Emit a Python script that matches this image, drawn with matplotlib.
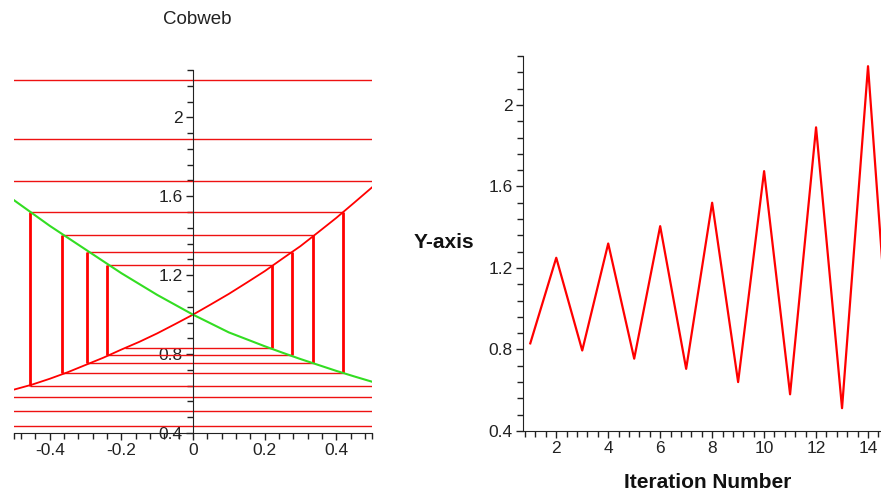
import numpy as np
import matplotlib
matplotlib.use("Agg")
import matplotlib.pyplot as plt
from matplotlib.ticker import FuncFormatter

plt.rcParams["font.family"] = ["Liberation Sans", "DejaVu Sans"]
plt.rcParams["axes.unicode_minus"] = False

# iterates (iteration 1..15)
iteration = [1, 2, 3, 4, 5, 6, 7, 8, 9, 10, 11, 12, 13, 14, 15]
y_iter = [0.83, 1.25, 0.795, 1.32, 0.755, 1.405, 0.705, 1.52,
          0.64, 1.675, 0.58, 1.89, 0.512, 2.19, 0.435]

# cobweb: x position of start, each vertical step, and the final end
web_x = [-0.19, 0.221, -0.24, 0.277, -0.295, 0.336, -0.365, 0.42,
         -0.455, 0.52, -0.55, 0.64, -0.67, 0.78, -0.83, 0.95]

# the two curves of the cobweb, read at x = -0.5 .. 0.5
curve_x = [-0.5, -0.45, -0.4, -0.35, -0.3, -0.25, -0.2, -0.15, -0.1, -0.05, 0.0,
           0.05, 0.1, 0.15, 0.2, 0.25, 0.3, 0.35, 0.4, 0.45, 0.5]
red_curve = [0.62, 0.645, 0.675, 0.708, 0.745, 0.782, 0.823, 0.862, 0.905, 0.952, 1.0,
             1.052, 1.105, 1.162, 1.22, 1.284, 1.347, 1.418, 1.49, 1.567, 1.645]
green_curve = [1.58, 1.515, 1.45, 1.39, 1.33, 1.27, 1.21, 1.155, 1.10, 1.05, 1.0,
               0.955, 0.91, 0.875, 0.84, 0.807, 0.775, 0.745, 0.715, 0.687, 0.66]

W, H = 881, 492
fig = plt.figure(figsize=(W / 100, H / 100), dpi=100)


def fmt(v, pos):
    return "%g" % round(v, 3)


def style_axis(ax):
    ax.spines["top"].set_visible(False)
    ax.spines["right"].set_visible(False)
    ax.tick_params(which="major", direction="out", length=5, width=1,
                   labelsize=12.5, pad=2.5, colors="#222222")
    ax.tick_params(which="minor", direction="out", length=4, width=1,
                   colors="#222222")
    ax.xaxis.set_major_formatter(FuncFormatter(fmt))
    ax.yaxis.set_major_formatter(FuncFormatter(fmt))
    for s in ("left", "bottom"):
        ax.spines[s].set_color("#222222")


# left: cobweb
ax1 = fig.add_axes([14 / W, 59 / H, 358 / W, 363 / H])
ax1.set_xlim(-0.5, 0.5)
ax1.set_ylim(0.4, 2.24)
ax1.spines["left"].set_position(("data", 0))
style_axis(ax1)
ax1.set_xticks([-0.4, -0.2, 0, 0.2, 0.4])
ax1.set_xticks(list(np.arange(-0.48, 0.49, 0.04)) + [-0.5, 0.5], minor=True)
ax1.set_yticks([0.4, 0.8, 1.2, 1.6, 2.0])
ax1.set_yticks(np.arange(0.48, 2.25, 0.08), minor=True)

ax1.hlines(y_iter, web_x[:-1], web_x[1:], color="#ee1111", lw=1.0)
ax1.vlines(web_x[1:-1], y_iter[:-1], y_iter[1:], color="#ff0000", lw=2.0)
ax1.plot(curve_x, red_curve, color="#ff0000", lw=1.3)
ax1.plot(curve_x, green_curve, color="#33dd22", lw=1.5)
fig.text(197 / W, 1 - 19 / H, "Cobweb", ha="center", va="center", fontsize=13.5,
         color="#222222")

# right: iterates
ax2 = fig.add_axes([523 / W, 61 / H, 371 / W, 375 / H])
ax2.set_xlim(0.72, 15)
ax2.set_ylim(0.4, 2.24)
style_axis(ax2)
ax2.set_xticks([2, 4, 6, 8, 10, 12, 14])
ax2.set_xticks(np.arange(0.8, 15, 0.4), minor=True)
ax2.set_yticks([0.4, 0.8, 1.2, 1.6, 2.0])
ax2.set_yticks(np.arange(0.48, 2.25, 0.08), minor=True)
ax2.plot(iteration, y_iter, color="#ff0000", lw=1.6)

fig.text(444 / W, 1 - 243 / H, "Y-axis", ha="center", va="center",
         fontsize=15, fontweight="bold", color="#111111")
fig.text(708 / W, 1 - 483 / H, "Iteration Number", ha="center", va="center",
         fontsize=15, fontweight="bold", color="#111111")

fig.savefig("out.png", dpi=100)
